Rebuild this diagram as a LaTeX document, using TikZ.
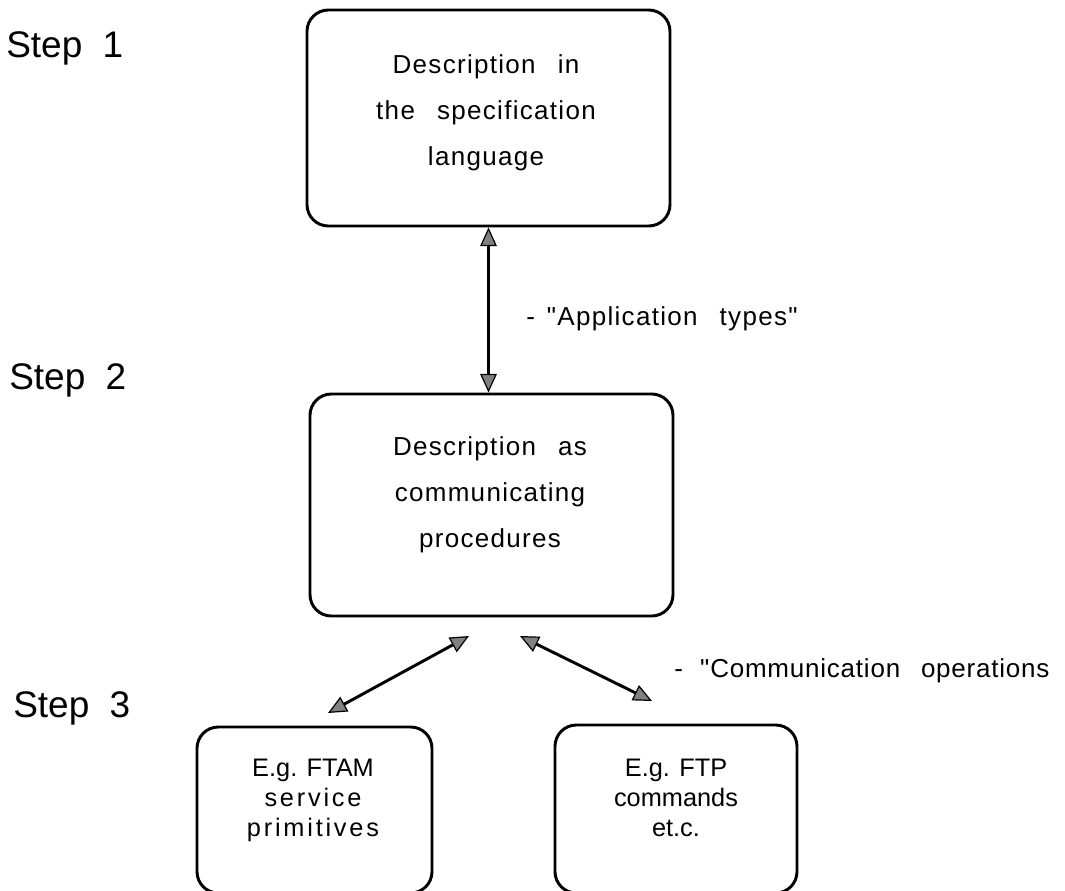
\documentclass[tikz,border=0pt]{standalone}
\usepackage{fontspec}
\setmainfont{Liberation Sans}[Ligatures=TeXOff]
\usetikzlibrary{arrows.meta}
\newcommand\widewords{\spaceskip=0.85em\relax}
\newcommand\tracked[1]{{\addfontfeature{LetterSpace=11}#1}}

\begin{document}
\begin{tikzpicture}[x=0.75pt,y=-0.75pt,
  stage/.style={draw, line width=2.2pt, rounded corners=16pt, inner sep=0pt},
  steplabel/.style={anchor=base west, inner sep=0pt,
    font=\fontsize{27.75pt}{30pt}\selectfont},
  boxtext/.style={anchor=north, inner sep=0pt, align=center,
    font=\fontsize{19.5pt}{34.5pt}\selectfont\addfontfeature{LetterSpace=5}\widewords},
  smalltext/.style={anchor=north, inner sep=0pt, align=center,
    font=\fontsize{19pt}{22.5pt}\selectfont},
  note/.style={anchor=base west, inner sep=0pt,
    font=\fontsize{19.5pt}{22pt}\selectfont\addfontfeature{LetterSpace=5}\widewords},
  tip/.tip={Triangle[length=14pt, width=12.5pt, fill=black!50, line width=0.9pt]},
  link/.style={line width=2.2pt, tip-tip}
]
\useasboundingbox (0,0) rectangle (1065,890);
\fill[white] (0,0) rectangle (1065,890);

% step captions
\node[steplabel] (s1) at (6,57)  {Step\hspace{0.55em}1};
\node[steplabel] (s2) at (9,389) {Step\hspace{0.55em}2};
\node[steplabel] (s3) at (13,717) {Step\hspace{0.55em}3};

% description boxes
\node[stage, minimum width=272.25pt, minimum height=162pt] (spec) at (488.5,118) {};
\node[boxtext] (spectext) at (486,54)
  {Description in\\the specification\\language};

\node[stage, minimum width=272.25pt, minimum height=166.5pt] (proc) at (491.5,505) {};
\node[boxtext] (proctext) at (490,436)
  {Description as\\communicating\\procedures};

\node[stage, minimum width=176.25pt, minimum height=124.5pt] (ftam) at (314.5,810) {};
\node[smalltext] (ftamtext) at (313,759)
  {E.g. FTAM\\\tracked{service}\\\tracked{primitives}};

\node[stage, minimum width=181.5pt, minimum height=126pt] (ftp) at (676,809) {};
\node[smalltext] (ftptext) at (676,759)
  {E.g. FTP\\commands\\et.c.};

% connectors
\draw[link] (spec.south) -- (spec.south |- proc.north);

\coordinate (la) at (328,713);
\coordinate (lb) at (469,636);
\coordinate (ra) at (520,636);
\coordinate (rb) at (652,701);
\draw[link] (la) -- (lb);
\draw[link] (ra) -- (rb);

% annotations
\node[note] (apptypes) at (526,325) {-\hspace{9pt}"Application types"};
\node[note] (commops) at (674,677)
  {-\hspace{13pt}{\addfontfeature{LetterSpace=3}"Communication\hspace{0.8em}operations}};
\end{tikzpicture}
\end{document}
